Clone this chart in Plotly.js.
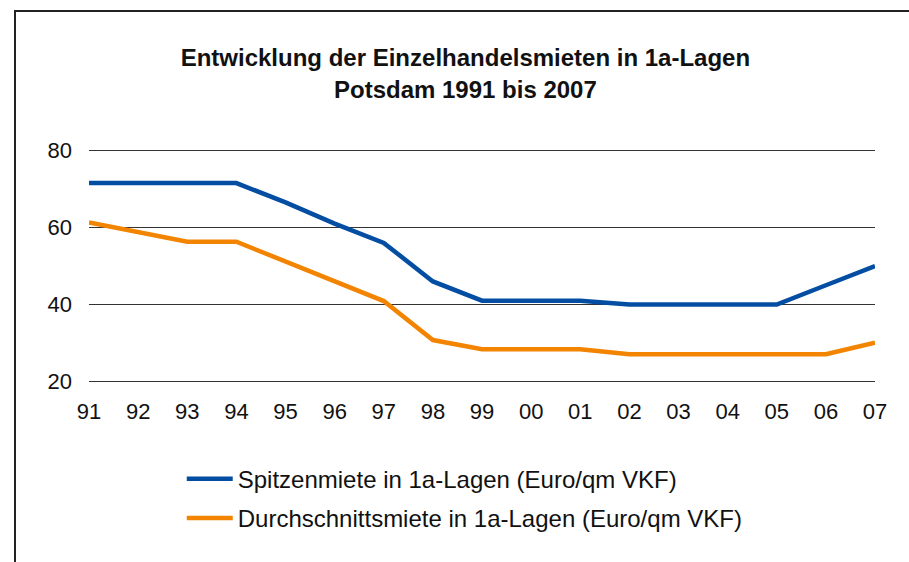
<!DOCTYPE html>
<html>
<head>
<meta charset="utf-8">
<script src="https://cdn.plot.ly/plotly-3.0.1.min.js"></script>
<style>
html,body{margin:0;padding:0;background:#fff;overflow:hidden;}
#wrap{position:relative;width:909px;height:562px;}
#chart{position:absolute;left:0;top:0;width:909px;height:562px;}
#frame{position:absolute;left:14px;top:10px;width:1000px;height:700px;border-left:2px solid #222;border-top:2px solid #222;pointer-events:none;}
</style>
</head>
<body>
<div id="wrap"><div id="chart"></div><div id="frame"></div></div>
<script>
const years = ["91","92","93","94","95","96","97","98","99","00","01","02","03","04","05","06","07"];
const spitzenmiete = [71.5,71.5,71.5,71.5,66.5,61,56,46,41,41,41,40,40,40,40,45,50];
const durchschnittsmiete = [61.3,58.8,56.3,56.3,51.2,46,40.9,30.8,28.4,28.4,28.4,27.1,27.1,27.1,27.1,27.1,30.1];
const seriesNames = ["Spitzenmiete in 1a-Lagen (Euro/qm VKF)","Durchschnittsmiete in 1a-Lagen (Euro/qm VKF)"];
const yTicks = [20,40,60,80];

const font = "Liberation Sans, Arial, Helvetica, sans-serif";
const traces = [
  {x: years, y: spitzenmiete, type: "scatter", mode: "lines", name: seriesNames[0],
   legendgroup: "a", line: {color: "#034ea2", width: 4.5}},
  {x: years, y: durchschnittsmiete, type: "scatter", mode: "lines", name: seriesNames[1],
   legendgroup: "b", line: {color: "#f28400", width: 4.5}}
];
const layout = {
  width: 909, height: 562,
  margin: {l: 89, r: 34, t: 149, b: 179},
  paper_bgcolor: "#fff", plot_bgcolor: "#fff",
  font: {family: font, color: "#111", size: 22},
  title: {text: "<b>Entwicklung der Einzelhandelsmieten in 1a-Lagen<br>Potsdam 1991 bis 2007</b>",
          font: {family: font, size: 24, color: "#111"}, x: 0.512, xanchor: "center", y: 0.882, yanchor: "middle"},
  xaxis: {type: "category", range: [0, 16], showgrid: false, zeroline: false, showline: false,
          ticks: "", ticklabelstandoff: 13, tickfont: {size: 22, color: "#111"}, fixedrange: true},
  yaxis: {range: [19.65, 80.35], tickvals: yTicks, showgrid: true, gridcolor: "#333", gridwidth: 1,
          zeroline: false, showline: false, ticks: "", ticklabelstandoff: 16,
          tickfont: {size: 22, color: "#111"}, fixedrange: true},
  showlegend: true,
  legend: {x: 0.118, xanchor: "left", y: -0.315, yanchor: "top", traceorder: "grouped",
           tracegroupgap: 5, itemwidth: 46, font: {size: 24, color: "#111"}, bgcolor: "rgba(0,0,0,0)"}
};
Plotly.newPlot("chart", traces, layout, {staticPlot: true, displayModeBar: false});
</script>
</body>
</html>
